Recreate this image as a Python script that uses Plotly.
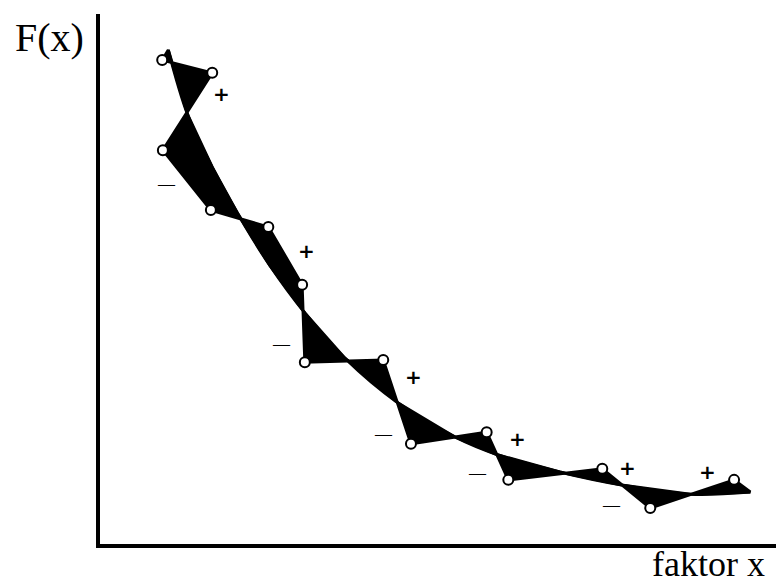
import plotly.graph_objects as go

# Observed data points (zig-zag series), in the order they are joined
pts_x = [0.92, 1.66, 0.93, 1.64, 2.49, 2.99, 3.03, 4.19, 4.60, 5.72, 6.04, 7.43, 8.14, 9.38]
pts_y = [9.13, 8.89, 7.43, 6.30, 5.98, 4.89, 3.43, 3.47, 1.89, 2.11, 1.21, 1.42, 0.68, 1.21]

# Smooth fitted curve F(x)
curve_x = [1.01, 1.30, 1.66, 2.03, 2.51, 3.03, 3.62, 4.41, 5.25, 5.89, 6.80, 7.74, 8.73, 9.62]
curve_y = [9.32, 8.09, 7.11, 6.25, 5.26, 4.36, 3.51, 2.66, 2.02, 1.68, 1.36, 1.11, 0.94, 0.98]

# Sign labels of the deviations
sign_text = ["+", "—", "+", "—", "+", "—", "+", "—", "+", "—", "+"]
sign_x = [1.79, 0.98, 3.05, 2.68, 4.64, 4.19, 6.17, 5.58, 7.81, 7.56, 8.98]
sign_y = [8.49, 6.81, 5.53, 3.79, 3.15, 2.09, 1.98, 1.34, 1.43, 0.74, 1.36]

fig = go.Figure()

# filled area between zig-zag and curve
poly_x = pts_x + curve_x[::-1] + [pts_x[0]]
poly_y = pts_y + curve_y[::-1] + [pts_y[0]]
fig.add_trace(go.Scatter(x=poly_x, y=poly_y, mode="lines", fill="toself",
                         fillcolor="black", line=dict(color="black", width=3),
                         hoverinfo="skip", showlegend=False))
# smooth curve
fig.add_trace(go.Scatter(x=curve_x, y=curve_y, mode="lines",
                         line=dict(color="black", width=3, shape="spline"),
                         showlegend=False))
# data points
fig.add_trace(go.Scatter(x=pts_x, y=pts_y, mode="markers",
                         marker=dict(symbol="circle", size=10, color="white",
                                     line=dict(color="black", width=2)),
                         showlegend=False))

for t, x, y in zip(sign_text, sign_x, sign_y):
    if t == "+":
        fig.add_annotation(x=x, y=y, text="<b>+</b>", showarrow=False,
                           font=dict(family="DejaVu Sans", size=20, color="black"))
    else:
        fig.add_annotation(x=x, y=y, text=t, showarrow=False,
                           font=dict(family="Liberation Serif", size=17, color="black"))

fig.add_annotation(xref="paper", yref="paper", x=-0.0754, y=0.955, text="F(x)",
                   showarrow=False, xanchor="center", yanchor="middle",
                   font=dict(family="Liberation Serif", size=40, color="black"))
fig.add_annotation(xref="paper", yref="paper", x=0.985, y=-0.0775, text="faktor x",
                   showarrow=False, xanchor="right", yanchor="bottom", borderpad=0,
                   font=dict(family="Liberation Serif", size=36, color="black"))

fig.update_xaxes(range=[0, 10], showgrid=False, zeroline=False, showticklabels=False,
                 ticks="", showline=True, linecolor="black", linewidth=3.5)
fig.update_yaxes(range=[0, 10], showgrid=False, zeroline=False, showticklabels=False,
                 ticks="", showline=True, linecolor="black", linewidth=3.5)
fig.update_layout(width=776, height=588, margin=dict(l=100, r=0, t=14, b=44),
                  plot_bgcolor="white", paper_bgcolor="white")

fig.write_html("out.html")
